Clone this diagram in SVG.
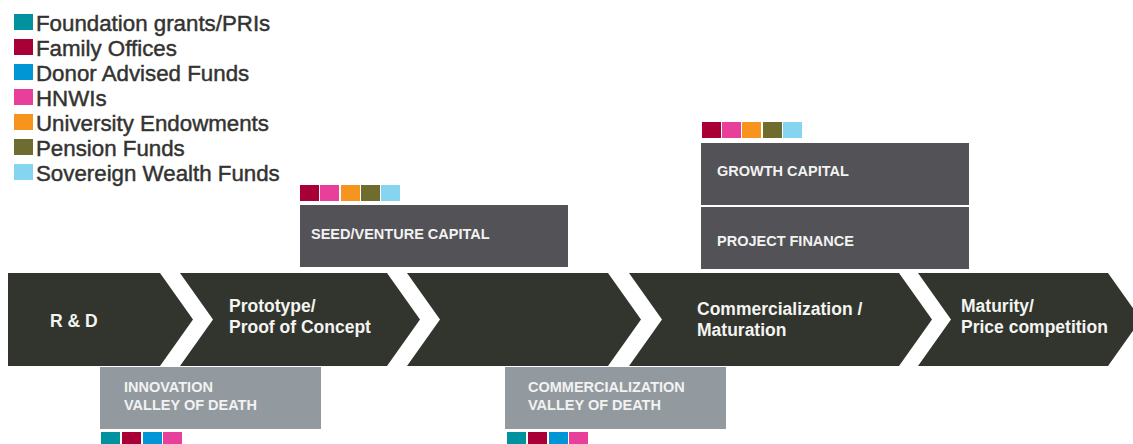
<svg xmlns="http://www.w3.org/2000/svg" width="1133" height="444" viewBox="0 0 1133 444">
  <style>
    .legend-text { font-family: "Liberation Sans", Arial, sans-serif; font-size: 22.3px; fill: #333331; stroke: #333331; stroke-width: 0.45px; }
    .stage { fill: #32342e; }
    .stage-text { font-family: "Liberation Sans", Arial, sans-serif; font-size: 17.5px; font-weight: bold; fill: #f4f4f2; }
    .capital { fill: #535256; }
    .valley { fill: #939a9f; }
    .box-text { font-family: "Liberation Sans", Arial, sans-serif; font-size: 14.5px; font-weight: bold; fill: #f2f2f2; }
    .c-teal { fill: #00929f; }
    .c-crimson { fill: #a80036; }
    .c-blue { fill: #0096d6; }
    .c-pink { fill: #e8409a; }
    .c-orange { fill: #f7941e; }
    .c-olive { fill: #6e6c2f; }
    .c-sky { fill: #85d4f0; }
  </style>
  <defs>
    <!-- single funding-source swatch -->
    <rect id="sw" width="19" height="16"/>
  </defs>

  <rect width="1133" height="444" fill="#ffffff"/>

  <!-- Legend of funding sources -->
  <g id="legend">
    <use href="#sw" x="14" y="14" class="c-teal"/>
    <text class="legend-text" x="36" y="30.5">Foundation grants/PRIs</text>
    <use href="#sw" x="14" y="39" class="c-crimson"/>
    <text class="legend-text" x="36" y="55.5">Family Offices</text>
    <use href="#sw" x="14" y="64" class="c-blue"/>
    <text class="legend-text" x="36" y="80.5">Donor Advised Funds</text>
    <use href="#sw" x="14" y="89" class="c-pink"/>
    <text class="legend-text" x="36" y="105.5">HNWIs</text>
    <use href="#sw" x="14" y="114" class="c-orange"/>
    <text class="legend-text" x="36" y="130.5">University Endowments</text>
    <use href="#sw" x="14" y="139" class="c-olive"/>
    <text class="legend-text" x="36" y="155.5">Pension Funds</text>
    <use href="#sw" x="14" y="164" class="c-sky"/>
    <text class="legend-text" x="36" y="180.5">Sovereign Wealth Funds</text>
  </g>

  <!-- Stage chevrons -->
  <g id="stage-rd">
    <polygon class="stage" points="8,273 160,273 193,319.5 160,366 8,366"/>
    <text class="stage-text" x="50" y="327">R &amp; D</text>
  </g>
  <g id="stage-prototype">
    <polygon class="stage" points="180,273 387,273 420,319.5 387,366 180,366 213,319.5"/>
    <text class="stage-text" x="229" y="312">Prototype/</text>
    <text class="stage-text" x="229" y="333">Proof of Concept</text>
  </g>
  <g id="stage-scaleup">
    <polygon class="stage" points="407,273 608,273 641,319.5 608,366 407,366 440,319.5"/>
  </g>
  <g id="stage-commercialization">
    <polygon class="stage" points="629,273 899,273 932,319.5 899,366 629,366 662,319.5"/>
    <text class="stage-text" x="697" y="315">Commercialization /</text>
    <text class="stage-text" x="697" y="336">Maturation</text>
  </g>
  <g id="stage-maturity">
    <polygon class="stage" points="918,273 1108,273 1141,319.5 1108,366 918,366 951,319.5"/>
    <text class="stage-text" x="961" y="312">Maturity/</text>
    <text class="stage-text" x="961" y="333">Price competition</text>
  </g>

  <!-- Capital sources above the stages -->
  <g id="seed-venture-capital">
    <use href="#sw" x="300" y="185" class="c-crimson"/>
    <use href="#sw" x="320" y="185" class="c-pink"/>
    <use href="#sw" x="341" y="185" class="c-orange"/>
    <use href="#sw" x="361" y="185" class="c-olive"/>
    <use href="#sw" x="381" y="185" class="c-sky"/>
    <rect class="capital" x="300" y="205" width="268" height="62"/>
    <text class="box-text" x="311" y="239">SEED/VENTURE CAPITAL</text>
  </g>
  <g id="growth-capital">
    <use href="#sw" x="702" y="122" class="c-crimson"/>
    <use href="#sw" x="722" y="122" class="c-pink"/>
    <use href="#sw" x="742" y="122" class="c-orange"/>
    <use href="#sw" x="763" y="122" class="c-olive"/>
    <use href="#sw" x="783" y="122" class="c-sky"/>
    <rect class="capital" x="701" y="143" width="268" height="62"/>
    <text class="box-text" x="717" y="176">GROWTH CAPITAL</text>
  </g>
  <g id="project-finance">
    <rect class="capital" x="701" y="207" width="268" height="62"/>
    <text class="box-text" x="717" y="246">PROJECT FINANCE</text>
  </g>

  <!-- Funding gaps below the stages -->
  <g id="innovation-valley">
    <rect class="valley" x="100" y="367" width="221" height="62"/>
    <text class="box-text" x="124" y="392">INNOVATION</text>
    <text class="box-text" x="124" y="410">VALLEY OF DEATH</text>
    <use href="#sw" x="101" y="432" class="c-teal"/>
    <use href="#sw" x="122" y="432" class="c-crimson"/>
    <use href="#sw" x="143" y="432" class="c-blue"/>
    <use href="#sw" x="163" y="432" class="c-pink"/>
  </g>
  <g id="commercialization-valley">
    <rect class="valley" x="505" y="367" width="221" height="62"/>
    <text class="box-text" x="528" y="392">COMMERCIALIZATION</text>
    <text class="box-text" x="528" y="410">VALLEY OF DEATH</text>
    <use href="#sw" x="507" y="432" class="c-teal"/>
    <use href="#sw" x="528" y="432" class="c-crimson"/>
    <use href="#sw" x="549" y="432" class="c-blue"/>
    <use href="#sw" x="569" y="432" class="c-pink"/>
  </g>
</svg>
